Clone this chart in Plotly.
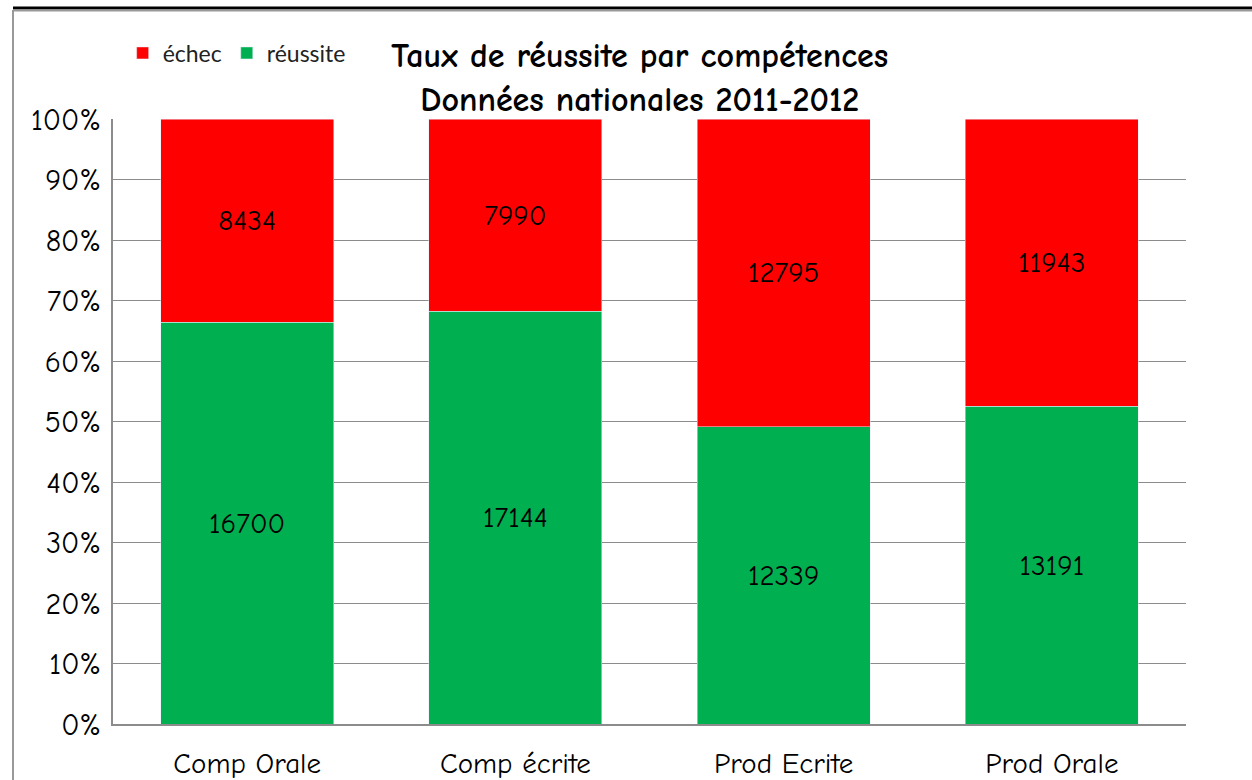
import plotly.graph_objects as go

categories = ["Comp Orale", "Comp écrite", "Prod Ecrite", "Prod Orale"]
reussite = [16700, 17144, 12339, 13191]
echec = [8434, 7990, 12795, 11943]
tick_vals = [0, 10, 20, 30, 40, 50, 60, 70, 80, 90, 100]
tick_text = [f"{v}%" for v in tick_vals]

FONT = "Comic Sans MS, Comic Neue, DejaVu Sans, sans-serif"

fig = go.Figure()
fig.add_trace(go.Bar(
    x=categories, y=reussite, name="réussite", marker_color="#00B050",
    text=[str(v) for v in reussite], textposition="inside", insidetextanchor="middle",
    textfont=dict(family=FONT, size=29, color="black"), legendrank=2,
    textangle=0,
))
fig.add_trace(go.Bar(
    x=categories, y=echec, name="échec", marker_color="#FF0000",
    text=[str(v) for v in echec], textposition="inside", insidetextanchor="middle",
    textfont=dict(family=FONT, size=29, color="black"), legendrank=1,
    textangle=0,
))

fig.update_layout(
    width=1252, height=780,
    barmode="stack", barnorm="percent", bargap=0.355,
    paper_bgcolor="white", plot_bgcolor="white",
    margin=dict(l=113, r=66, t=119, b=56, autoexpand=False),
    font=dict(family=FONT, color="black"),
    title=dict(
        text="<b>Taux de réussite par compétences<br>Données nationales 2011-2012</b>",
        x=0.511, xanchor="center", y=1 - 67/780, yanchor="middle", xref="container", yref="container",
        font=dict(family=FONT, size=34, color="black"),
    ),
    legend=dict(
        orientation="h", x=0.009, y=(724-53)/605, xanchor="left", yanchor="middle",
        font=dict(family="Lato, Open Sans, sans-serif", size=23, color="#222"),
        bgcolor="rgba(0,0,0,0)", traceorder="normal", itemwidth=30,
    ),
    showlegend=True,
    uniformtext=dict(mode=False),
)
fig.update_yaxes(
    range=[0, 100], tickvals=tick_vals, ticktext=tick_text,
    showgrid=True, gridcolor="#8C8C8C", gridwidth=1,
    showline=True, linecolor="#8C8C8C", linewidth=2,
    tickfont=dict(family=FONT, size=30, color="black"), ticks="",
    ticklabelstandoff=4, zeroline=False,
)
fig.update_xaxes(
    showline=True, linecolor="#8C8C8C", linewidth=2, mirror=False,
    tickfont=dict(family=FONT, size=29, color="black"), ticks="",
    ticklabelstandoff=12,
)
# frame lines
fig.add_shape(type="line", xref="paper", yref="paper",
              x0=-100/1073, x1=1139/1073, y0=(724-8)/605, y1=(724-8)/605,
              line=dict(color="black", width=3))
fig.add_shape(type="line", xref="paper", yref="paper",
              x0=-100/1073, x1=1139/1073, y0=(724-10.5)/605, y1=(724-10.5)/605,
              line=dict(color="#999999", width=2))
fig.add_shape(type="line", xref="paper", yref="paper",
              x0=-100/1073, x1=-100/1073, y0=(724-10)/605, y1=(724-790)/605,
              line=dict(color="#999999", width=2))

fig.write_html("out.html", config={"displayModeBar": False},
               post_script="document.body.style.margin='0';document.body.style.overflow='hidden';")
